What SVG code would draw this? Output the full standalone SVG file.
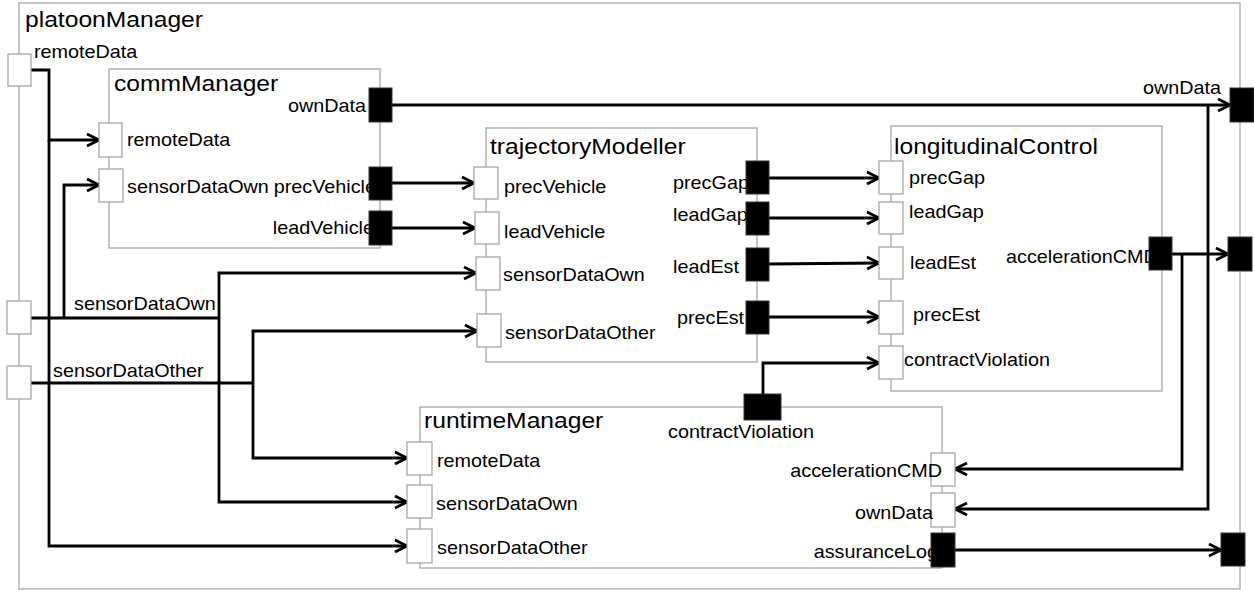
<svg xmlns="http://www.w3.org/2000/svg" width="1254" height="590" viewBox="0 0 1254 590">
  <style>
    .frame { fill: none; stroke: #a0a0a0; stroke-width: 1.2; }
    .box { fill: none; stroke: #a0a0a0; stroke-width: 1.2; }
    .pin { fill: #ffffff; stroke: #a0a0a0; stroke-width: 1.2; }
    .pout { fill: #000000; stroke: #333333; stroke-width: 1; }
    .wire { fill: none; stroke: #000000; stroke-width: 2.8; stroke-linejoin: miter; }
    .arr { marker-end: url(#chev); }
    text { font-family: "Liberation Sans", Arial, Helvetica, sans-serif; fill: #000000; }
    .title { font-size: 22px; }
    .lbl { font-size: 18px; }
    .end { text-anchor: end; }
  </style>
  <defs>
    <marker id="chev" markerUnits="userSpaceOnUse" markerWidth="16" markerHeight="16" refX="13" refY="7" orient="auto" overflow="visible">
      <path d="M1,1 L13,7 L1,13" fill="none" stroke="#000000" stroke-width="2.8" stroke-linejoin="miter"/>
    </marker>
  </defs>

  <rect x="0" y="0" width="1254" height="590" fill="#ffffff"/>

  <!-- outer frame outline -->
  <rect class="frame" x="19" y="3" width="1221" height="586"/>

  <g id="connectors">
    <!-- remoteData -->
    <polyline class="wire arr" points="31,70 49,70 49,140 99,140"/>
    <polyline class="wire arr" points="49,140 49,546 407,546"/>
    <!-- sensorDataOwn -->
    <polyline class="wire" points="31,318 219,318"/>
    <polyline class="wire arr" points="64,318 64,185 99,185"/>
    <polyline class="wire arr" points="219,318 219,273 476,273"/>
    <polyline class="wire arr" points="219,318 219,502 407,502"/>
    <!-- sensorDataOther -->
    <polyline class="wire" points="31,383 253,383"/>
    <polyline class="wire arr" points="253,383 253,331 477,331"/>
    <polyline class="wire arr" points="253,383 253,458 407,458"/>
    <!-- ownData -->
    <polyline class="wire arr" points="392,105 1230,105"/>
    <polyline class="wire arr" points="1208,105 1208,509 955,509"/>
    <!-- commManager to trajectoryModeller -->
    <polyline class="wire arr" points="392,183 474,183"/>
    <polyline class="wire arr" points="392,228 475,228"/>
    <!-- trajectoryModeller to longitudinalControl -->
    <polyline class="wire arr" points="769,178 879,178"/>
    <polyline class="wire arr" points="769,218 879,218"/>
    <polyline class="wire arr" points="769,264 879,263"/>
    <polyline class="wire arr" points="769,317 879,317"/>
    <!-- contractViolation -->
    <polyline class="wire arr" points="763,394 763,363 879,363"/>
    <!-- accelerationCMD -->
    <polyline class="wire arr" points="1172,254 1228,254"/>
    <polyline class="wire arr" points="1182,254 1182,469 955,469"/>
    <!-- assuranceLog -->
    <polyline class="wire arr" points="955,550 1221,550"/>
  </g>

  <g id="platoonManager">
    <rect class="pin" x="8" y="54" width="23" height="32"/>
    <rect class="pin" x="7" y="301" width="24" height="33"/>
    <rect class="pin" x="7" y="366" width="24" height="33"/>
    <rect class="pout" x="1230" y="88" width="24" height="34"/>
    <rect class="pout" x="1228" y="237" width="24" height="34"/>
    <rect class="pout" x="1221" y="533" width="24" height="33"/>
    <text class="title" transform="translate(25 27) scale(1.12 1)">platoonManager</text>
    <text class="lbl" transform="translate(34 58) scale(1.1 1)">remoteData</text>
    <text class="lbl" transform="translate(74 310) scale(1.1 1)">sensorDataOwn</text>
    <text class="lbl" transform="translate(53 377) scale(1.1 1)">sensorDataOther</text>
    <text class="lbl end" transform="translate(1221 94) scale(1.1 1)">ownData</text>
  </g>

  <g id="commManager">
    <rect class="box" x="109" y="69" width="271" height="179"/>
    <rect class="pin" x="99" y="123" width="23" height="34"/>
    <rect class="pin" x="99" y="169" width="24" height="33"/>
    <text class="title" transform="translate(114 91) scale(1.12 1)">commManager</text>
    <text class="lbl" transform="translate(127 146) scale(1.1 1)">remoteData</text>
    <text class="lbl" transform="translate(127 193) scale(1.1 1)">sensorDataOwn</text>
    <text class="lbl end" transform="translate(366 112) scale(1.1 1)">ownData</text>
    <text class="lbl end" transform="translate(376 193) scale(1.1 1)">precVehicle</text>
    <text class="lbl end" transform="translate(374 234) scale(1.1 1)">leadVehicle</text>
    <rect class="pout" x="369" y="88" width="23" height="34"/>
    <rect class="pout" x="369" y="167" width="23" height="33"/>
    <rect class="pout" x="369" y="211" width="23" height="34"/>
  </g>

  <g id="trajectoryModeller">
    <rect class="box" x="486" y="128" width="271" height="234"/>
    <rect class="pin" x="474" y="167" width="24" height="32"/>
    <rect class="pin" x="475" y="212" width="24" height="32"/>
    <rect class="pin" x="476" y="257" width="24" height="33"/>
    <rect class="pin" x="477" y="314" width="24" height="33"/>
    <text class="title" transform="translate(490 154) scale(1.12 1)">trajectoryModeller</text>
    <text class="lbl" transform="translate(504 193) scale(1.1 1)">precVehicle</text>
    <text class="lbl" transform="translate(504 238) scale(1.1 1)">leadVehicle</text>
    <text class="lbl" transform="translate(503 281) scale(1.1 1)">sensorDataOwn</text>
    <text class="lbl" transform="translate(505 339) scale(1.1 1)">sensorDataOther</text>
    <text class="lbl" transform="translate(673 189) scale(1.1 1)">precGap</text>
    <text class="lbl" transform="translate(673 221) scale(1.1 1)">leadGap</text>
    <text class="lbl" transform="translate(673 273) scale(1.1 1)">leadEst</text>
    <text class="lbl" transform="translate(677 324) scale(1.1 1)">precEst</text>
    <rect class="pout" x="746" y="161" width="23" height="33"/>
    <rect class="pout" x="746" y="202" width="23" height="33"/>
    <rect class="pout" x="746" y="248" width="23" height="33"/>
    <rect class="pout" x="746" y="301" width="23" height="33"/>
  </g>

  <g id="longitudinalControl">
    <rect class="box" x="891" y="126" width="271" height="265"/>
    <rect class="pin" x="879" y="161" width="24" height="33"/>
    <rect class="pin" x="879" y="202" width="24" height="32"/>
    <rect class="pin" x="879" y="247" width="24" height="32"/>
    <rect class="pin" x="879" y="301" width="24" height="33"/>
    <rect class="pin" x="879" y="346" width="24" height="33"/>
    <text class="title" transform="translate(894 154) scale(1.12 1)">longitudinalControl</text>
    <text class="lbl" transform="translate(909 184) scale(1.1 1)">precGap</text>
    <text class="lbl" transform="translate(909 218) scale(1.1 1)">leadGap</text>
    <text class="lbl" transform="translate(910 269) scale(1.1 1)">leadEst</text>
    <text class="lbl" transform="translate(913 321) scale(1.1 1)">precEst</text>
    <text class="lbl" transform="translate(904 366) scale(1.1 1)">contractViolation</text>
    <text class="lbl" transform="translate(1006 263) scale(1.1 1)">accelerationCMD</text>
    <rect class="pout" x="1149" y="237" width="23" height="33"/>
  </g>

  <g id="runtimeManager">
    <rect class="box" x="420" y="407" width="522" height="161"/>
    <rect class="pout" x="744" y="394" width="37" height="26"/>
    <rect class="pin" x="407" y="442" width="25" height="33"/>
    <rect class="pin" x="407" y="485" width="25" height="33"/>
    <rect class="pin" x="407" y="529" width="25" height="34"/>
    <rect class="pin" x="931" y="453" width="24" height="33"/>
    <rect class="pin" x="931" y="493" width="24" height="34"/>
    <text class="title" transform="translate(424 428) scale(1.12 1)">runtimeManager</text>
    <text class="lbl" transform="translate(668 438) scale(1.1 1)">contractViolation</text>
    <text class="lbl" transform="translate(437 467) scale(1.1 1)">remoteData</text>
    <text class="lbl" transform="translate(436 510) scale(1.1 1)">sensorDataOwn</text>
    <text class="lbl" transform="translate(437 554) scale(1.1 1)">sensorDataOther</text>
    <text class="lbl end" transform="translate(942 477) scale(1.1 1)">accelerationCMD</text>
    <text class="lbl end" transform="translate(933 519) scale(1.1 1)">ownData</text>
    <text class="lbl end" transform="translate(938 558) scale(1.1 1)">assuranceLog</text>
    <rect class="pout" x="931" y="533" width="24" height="34"/>
  </g>
</svg>
